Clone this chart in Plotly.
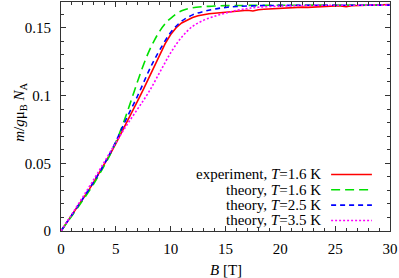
import plotly.graph_objects as go

# ---- data ----
B_exp = [0, 0.5, 1, 1.5, 2, 2.5, 3, 3.5, 4, 4.5, 5, 5.5, 6, 6.5, 7, 7.5, 8, 8.5, 9, 9.5,
         10, 10.5, 11, 11.5, 12, 12.5, 13, 13.5, 14, 14.5, 15, 15.5, 16, 16.5, 17, 17.5,
         18, 18.5, 19, 19.5, 20, 20.5, 21, 21.5, 22, 22.5, 23, 23.5, 24, 24.5, 25, 25.5,
         26, 26.5, 27, 27.5, 28, 28.5, 29, 29.5, 30]
m_exp = [0, 0.0058, 0.0117, 0.0176, 0.0236, 0.0298, 0.0362, 0.0428, 0.0497, 0.0570,
         0.0645, 0.0722, 0.0802, 0.0882, 0.0962, 0.1043, 0.1127, 0.1213, 0.1300, 0.1383,
         0.1450, 0.1500, 0.1535, 0.1558, 0.1575, 0.1588, 0.1597, 0.1603, 0.1607, 0.1610,
         0.1616, 0.1620, 0.1624, 0.1627, 0.1629, 0.1624, 0.1633, 0.1636, 0.1639, 0.1642,
         0.1645, 0.1646, 0.1648, 0.1650, 0.1652, 0.1650, 0.1653, 0.1655, 0.1657, 0.1658,
         0.1660, 0.1661, 0.1655, 0.1662, 0.1663, 0.1664, 0.1666, 0.1667, 0.1668, 0.1670,
         0.1671]

B_t16 = [0, 1, 2, 3, 4, 4.5, 5, 5.5, 6, 6.5, 7, 7.5, 8, 8.5, 9, 9.5, 10, 11, 12, 13, 14, 15, 20, 30]
m_t16 = [0, 0.0113, 0.0228, 0.0350, 0.0490, 0.0568, 0.0656, 0.0756, 0.0868, 0.0988,
         0.1108, 0.1222, 0.1322, 0.1405, 0.1475, 0.1530, 0.1570, 0.1625, 0.1648, 0.1656,
         0.1660, 0.1663, 0.1666, 0.1667]

B_t25 = [0, 1, 2, 3, 4, 5, 6, 7, 8, 8.5, 9, 10, 11, 12, 13, 14, 15, 16, 18, 20, 25, 30]
m_t25 = [0, 0.0120, 0.0240, 0.0365, 0.0502, 0.0660, 0.0835, 0.1000, 0.1180, 0.1262,
         0.1335, 0.1465, 0.1548, 0.1595, 0.1620, 0.1638, 0.1650, 0.1657, 0.1663, 0.1665,
         0.1666, 0.1667]

B_t35 = [0, 1, 2, 3, 4, 5, 6, 7, 8, 9, 10, 11, 12, 13, 14, 15, 16, 17, 18, 20, 22, 25, 30]
m_t35 = [0, 0.0125, 0.0252, 0.0382, 0.0516, 0.0652, 0.0782, 0.0902, 0.1025, 0.1170,
         0.1315, 0.1430, 0.1510, 0.1555, 0.1585, 0.1608, 0.1628, 0.1642, 0.1651, 0.1660,
         0.1664, 0.1666, 0.1667]

x_ticks = [0, 5, 10, 15, 20, 25, 30]
y_ticks = [0, 0.05, 0.1, 0.15]
y_tick_text = ["0", "0.05", "0.1", "0.15"]

series = [
    ("experiment, <i>T</i>=1.6 K", B_exp, m_exp, "#ff0000", "solid", "linear"),
    ("theory, <i>T</i>=1.6 K", B_t16, m_t16, "#00e000", "9px,5px", "spline"),
    ("theory, <i>T</i>=2.5 K", B_t25, m_t25, "#0000ff", "5px,4px", "spline"),
    ("theory, <i>T</i>=3.5 K", B_t35, m_t35, "#ff00ff", "2px,2px", "spline"),
]

FONT = "Times New Roman, Liberation Serif, serif"
fig = go.Figure()
for name, xs, ys, col, dash, shape in series:
    fig.add_trace(go.Scatter(x=xs, y=ys, mode="lines", name=name, showlegend=False,
                             line=dict(color=col, width=1.6, dash=dash, shape=shape)))

# custom legend (text then sample, gnuplot style)
leg_y = [0.247, 0.180, 0.113, 0.046]
for (name, xs, ys, col, dash, shape), yy in zip(series, leg_y):
    fig.add_annotation(xref="paper", yref="paper", x=0.797, y=yy, text=name,
                       showarrow=False, xanchor="right", yanchor="middle",
                       font=dict(family=FONT, size=15, color="black"))
    fig.add_shape(type="line", xref="paper", yref="paper", x0=0.821, x1=0.945,
                  y0=yy, y1=yy, line=dict(color=col, width=1.6, dash=dash))

axis_common = dict(showline=True, mirror="allticks", linecolor="#333", linewidth=1,
                   ticks="inside", ticklen=5, tickcolor="#333", showgrid=False,
                   zeroline=False, tickfont=dict(family=FONT, size=15, color="black"))
fig.update_xaxes(range=[0, 30], tickvals=x_ticks, ticklabelstandoff=4,
                 minor=dict(ticks="inside", dtick=1, ticklen=3, tickcolor="#333"),
                 **axis_common)
fig.update_yaxes(range=[0, 0.169], tickvals=y_ticks, ticktext=y_tick_text,
                 ticklabelstandoff=6,
                 minor=dict(ticks="inside", dtick=0.01, ticklen=3, tickcolor="#333"),
                 **axis_common)

fig.add_annotation(xref="paper", yref="paper", x=0.5, y=-0.17, yanchor="middle",
                   text="<i>B</i> [T]", showarrow=False,
                   font=dict(family=FONT, size=15, color="black"))
fig.add_annotation(xref="paper", yref="paper", x=-0.125, y=0.52, xanchor="center",
                   yanchor="middle",
                   text="<i>m</i>/<i>g</i>μ<sub>B</sub> <i>N</i><sub>A</sub>",
                   textangle=-90, showarrow=False,
                   font=dict(family=FONT, size=15, color="black"))

fig.update_layout(width=399, height=278, margin=dict(l=61, r=9, t=2, b=47),
                  plot_bgcolor="white", paper_bgcolor="white",
                  font=dict(family=FONT, size=15, color="black"))
fig.write_html("out.html", config={"displayModeBar": False},
               post_script="document.body.style.margin='0';document.body.style.padding='0';")
